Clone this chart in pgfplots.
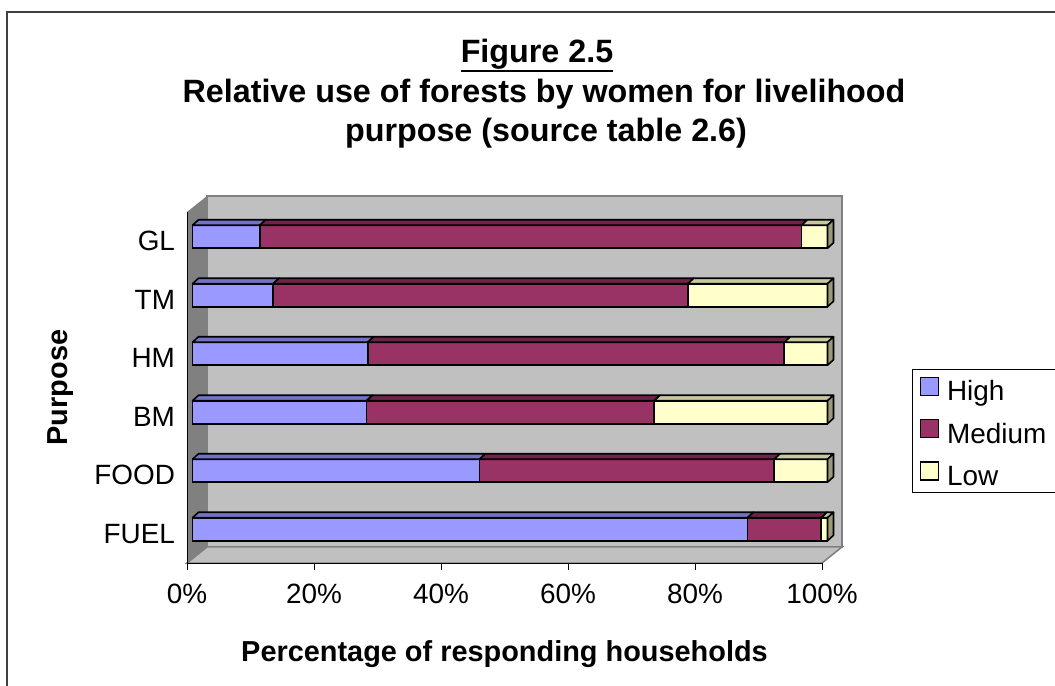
\documentclass[border=0pt]{standalone}
\usepackage{fontspec}
\setmainfont{Liberation Sans}
\usepackage{pgfplots}
\pgfplotsset{compat=1.18}
\usepackage{pgfplotstable}

\definecolor{highF}{HTML}{9999FF}
\definecolor{highT}{HTML}{7373C6}
\definecolor{medF}{HTML}{993366}
\definecolor{medT}{HTML}{6E244A}
\definecolor{lowF}{HTML}{FFFFCC}
\definecolor{lowT}{HTML}{C8C8A0}
\definecolor{lowS}{HTML}{9A9A78}
\definecolor{wallB}{HTML}{C0C0C0}
\definecolor{wallL}{HTML}{808080}

% pos: 0 = FUEL ... 5 = GL; shares of households in percent
\pgfplotstableread{
pos H M L
0 87.4 11.6 1.0
1 45.2 46.4 8.4
2 27.4 45.3 27.3
3 27.6 65.6 6.8
4 12.7 65.3 22.0
5 10.6 85.3 4.1
}\shares

\pgfdeclareplotmark{blank}{}

\pgfplotsset{
  % front face of a bar segment (drawn from 0, later segments overdraw)
  front/.style={
    xbar, bar width=23bp, bar shift=0pt,
    fill=#1, draw=black, line width=1.8bp,
    xshift=5.5bp, yshift=4.5bp,
    legend image code/.code={%
      \filldraw[fill=#1, draw=black, line width=1.6bp] (0bp,-9bp) rectangle (18bp,9bp);},
  },
  % top face of a segment, placed at the segment's right end
  topface/.style 2 args={
    scatter, only marks, mark=blank, forget plot, point meta=y,
    visualization depends on={\thisrow{#2} \as \segw},
    scatter/@pre marker code/.code={%
      \pgfmathsetmacro\xa{5.5-6.35*\segw}%
      \pgfmathsetmacro\xb{\xa+6}%
      \filldraw[fill=#1, draw=black, line width=1.6bp, line join=round]
        (\xa bp,16bp) -- (5.5bp,16bp) -- (11.5bp,21.5bp) -- (\xb bp,21.5bp) -- cycle;
    },
    scatter/@post marker code/.code={},
  },
  % right end face of the whole bar
  sideface/.style={
    scatter, only marks, mark=blank, forget plot, point meta=y,
    scatter/@pre marker code/.code={%
      \filldraw[fill=lowS, draw=black, line width=1.6bp, line join=round]
        (5.5bp,-7bp) -- (5.5bp,16bp) -- (11.5bp,21.5bp) -- (11.5bp,-1.5bp) -- cycle;
    },
    scatter/@post marker code/.code={},
  },
}

\begin{document}
\begin{tikzpicture}
\useasboundingbox (0,0) rectangle (1055bp,686bp);
\draw[line width=2bp, black!75] (7bp,0) -- (7bp,674bp) -- (1055bp,674bp);

\begin{axis}[
  at={(187bp,123bp)}, anchor=south west,
  scale only axis, width=635bp, height=351bp,
  xmin=0, xmax=100, ymin=-0.5, ymax=5.5,
  clip=false, axis on top,
  axis lines*=left,
  axis line style={-, black, line width=1bp},
  xtick={0,20,...,100},
  xticklabels={0\%,20\%,40\%,60\%,80\%,100\%},
  ytick={0,...,5},
  yticklabels={FUEL,FOOD,BM,HM,TM,GL},
  minor ytick={-0.5,0.5,...,5.5},
  tick align=outside,
  major tick length=6.5bp, minor tick length=7bp,
  ytick style={draw=none},
  xtick style={black, line width=1bp},
  minor tick style={black, line width=1bp},
  tick label style={font=\fontsize{28}{32}\selectfont},
  xticklabel style={yshift=-11bp},
  yticklabel style={xshift=-2bp},
  xlabel={Percentage of responding households},
  ylabel={Purpose},
  label style={font=\bfseries\fontsize{29}{34}\selectfont},
  xlabel style={anchor=base, at={(axis description cs:0.5,-0.2792)}},
  ylabel style={anchor=base, at={(axis description cs:-0.1882,0.5)}},
  reverse legend,
  legend cell align=left,
  legend style={
    at={(axis description cs:1.14173,0.55271)}, anchor=north west,
    draw=black, line width=1bp, fill=white,
    inner xsep=7bp, inner ysep=7bp,
    font=\fontsize{28}{32}\selectfont,
    row sep=17.9bp,
    nodes={inner sep=0pt, text height=20bp, text depth=0bp},
    /tikz/every odd column/.append style={column sep=8bp},
    /tikz/every even column/.append style={text width=120bp},
  },
]
  % walls and floor
  \filldraw[fill=wallB, draw=wallL, line width=2bp]
    ([shift={(20bp,16bp)}]axis cs:0,-0.5) rectangle ([shift={(20bp,16bp)}]axis cs:100,5.5);
  \filldraw[fill=wallB, draw=wallL, line width=1.5bp]
    (axis cs:0,-0.5) -- (axis cs:100,-0.5) -- ([shift={(20bp,16bp)}]axis cs:100,-0.5)
    -- ([shift={(20bp,16bp)}]axis cs:0,-0.5) -- cycle;
  \fill[wallL]
    (axis cs:0,-0.5) -- ([shift={(20bp,16bp)}]axis cs:0,-0.5)
    -- ([shift={(20bp,16bp)}]axis cs:0,5.5) -- (axis cs:0,5.5) -- cycle;

  % top and end faces
  \addplot[topface={highT}{H}] table[x=H, y=pos] {\shares};
  \addplot[topface={medT}{M}] table[x expr=\thisrow{H}+\thisrow{M}, y=pos] {\shares};
  \addplot[topface={lowT}{L}] table[x expr=\thisrow{H}+\thisrow{M}+\thisrow{L}, y=pos] {\shares};
  \addplot[sideface] table[x expr=\thisrow{H}+\thisrow{M}+\thisrow{L}, y=pos] {\shares};

  % front faces
  \addplot[front=lowF] table[x expr=\thisrow{H}+\thisrow{M}+\thisrow{L}, y=pos] {\shares};
  \addlegendentry{Low}
  \addplot[front=medF] table[x expr=\thisrow{H}+\thisrow{M}, y=pos] {\shares};
  \addlegendentry{Medium}
  \addplot[front=highF] table[x=H, y=pos] {\shares};
  \addlegendentry{High}
\end{axis}

\begin{scope}[every node/.style={font=\bfseries\fontsize{32.4}{38}\selectfont, inner sep=0pt, anchor=base}]
  \node (fig) at (537bp,623.3bp) {Figure 2.5};
  \draw[line width=2.5bp] ([yshift=-8.5bp]fig.base west) -- ([yshift=-8.5bp]fig.base east);
  \node at (544bp,583.3bp) {Relative use of forests by women for livelihood};
  \node at (546bp,544.5bp) {purpose (source table 2.6)};
\end{scope}
\end{tikzpicture}
\end{document}
